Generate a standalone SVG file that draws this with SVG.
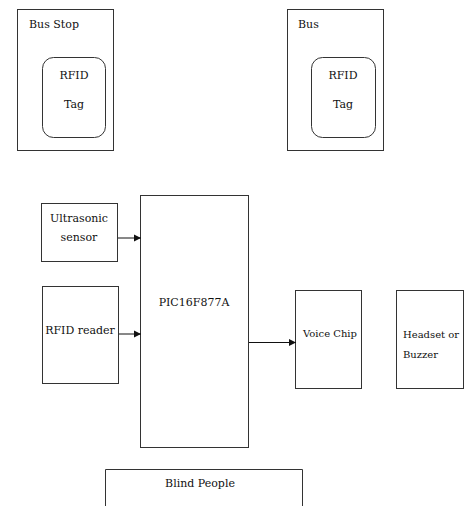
<svg xmlns="http://www.w3.org/2000/svg" width="464" height="506" viewBox="0 0 464 506">
<style>
.b{fill:#fff;stroke:#333;stroke-width:1}
text{font-family:'DejaVu Serif','Liberation Serif',serif;font-size:11px;fill:#111}
.m{text-anchor:middle}
.s{font-size:10px}
.c{stroke:#111;stroke-width:1;fill:none}
</style>
<defs>
<marker id="ah" markerWidth="8" markerHeight="8" refX="7" refY="4" orient="auto" markerUnits="userSpaceOnUse">
<path d="M0,0.5 L7,4 L0,7.5 Z" fill="#111"/>
</marker>
</defs>
<rect width="464" height="506" fill="#fff"/>
<g id="bus-stop">
<rect class="b" x="17.5" y="9.5" width="96" height="141"/>
<text x="29" y="28">Bus Stop</text>
<rect class="b" x="42.5" y="57.5" width="63" height="80" rx="11"/>
<text class="m" x="74" y="79">RFID</text>
<text class="m" x="74" y="108">Tag</text>
</g>
<g id="bus">
<rect class="b" x="287.5" y="9.5" width="96" height="141"/>
<text x="298" y="28">Bus</text>
<rect class="b" x="311.5" y="57.5" width="64" height="80" rx="11"/>
<text class="m" x="343" y="79">RFID</text>
<text class="m" x="343" y="108">Tag</text>
</g>
<g id="ultrasonic">
<rect class="b" x="41.5" y="203.5" width="76" height="58"/>
<text class="m" x="79" y="222">Ultrasonic</text>
<text class="m" x="79" y="241">sensor</text>
</g>
<g id="rfid-reader">
<rect class="b" x="42.5" y="286.5" width="76" height="97"/>
<text class="m" x="80" y="334">RFID reader</text>
</g>
<g id="pic">
<rect class="b" x="140.5" y="195.5" width="108" height="252"/>
<text class="m" x="194" y="306">PIC16F877A</text>
</g>
<g id="voice-chip">
<rect class="b" x="295.5" y="290.5" width="66" height="98"/>
<text class="m s" x="330" y="337">Voice Chip</text>
</g>
<g id="headset">
<rect class="b" x="396.5" y="290.5" width="67" height="98"/>
<text class="s" x="403" y="338">Headset or</text>
<text class="s" x="403" y="358">Buzzer</text>
</g>
<g id="blind-people">
<path class="b" d="M105.5,507 V469.5 H302.5 V507"/>
<text class="m" x="200" y="487">Blind People</text>
</g>
<g id="connectors">
<line class="c" x1="118" y1="238" x2="141" y2="238" marker-end="url(#ah)"/>
<line class="c" x1="119" y1="334" x2="141" y2="334" marker-end="url(#ah)"/>
<line class="c" x1="249" y1="342.5" x2="296" y2="342.5" marker-end="url(#ah)"/>
</g>
</svg>
